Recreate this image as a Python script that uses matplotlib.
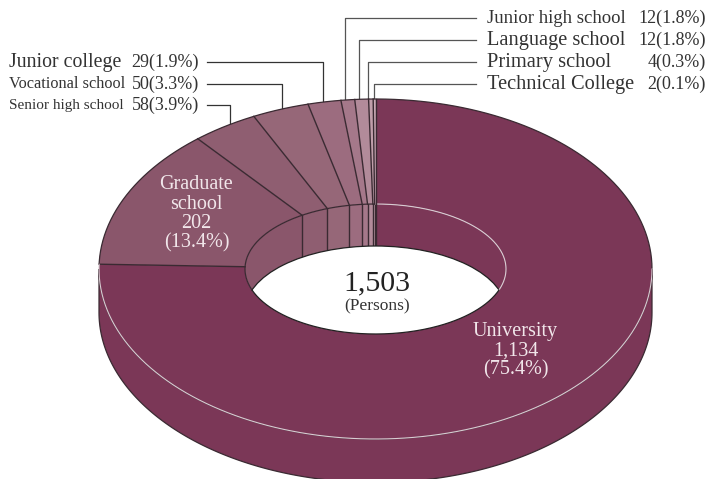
#!/usr/bin/env python3
# -*- coding:utf-8 -*-

import numpy as np
import matplotlib
matplotlib.use('Agg')
import matplotlib.pyplot as plt
from matplotlib.patches import Ellipse, Polygon, Rectangle

## data, clockwise from 12 o'clock
schools = ["University", "Graduate school", "Senior high school", "Vocational school",
           "Junior college", "Junior high school", "Language school", "Primary school",
           "Technical College"]
persons = [1134, 202, 58, 50, 29, 12, 12, 4, 2]
percents = ["75.4", "13.4", "3.9", "3.3", "1.9", "1.8", "1.8", "0.3", "0.1"]
total_label = "1,503"

colors = ["#7b3757", "#8a566b", "#8f5e71", "#966778", "#9c6c7f", "#a5788a", "#b28b9a",
          "#c09eaa", "#c8a9b4"]

## geometry, in pixels of the picture
CX, CY = 375.5, 269
A, B = 276.5, 170
IN_A, IN_B = 130.5, 65
DEPTH_OUT = 43.5
DEPTH_IN = 42
EDGE = "#3a2a32"
LIGHT = "#d8ccd2"
SERIF = "Liberation Serif"


def arc(a, b, t0, t1, cy=CY, n=200):
    t = np.radians(np.linspace(t0, t1, n))
    return np.column_stack((CX + a*np.cos(t), cy - b*np.sin(t)))


def inner_point(angle):
    ## the spokes are straight lines through the centre
    t = np.radians(angle)
    dx, dy = A*np.cos(t), B*np.sin(t)
    k = 1.0/np.sqrt((dx/IN_A)**2 + (dy/IN_B)**2)
    return CX + k*dx, CY - k*dy


fig = plt.figure(figsize=(7.08, 4.79), dpi=100)
ax = fig.add_axes([0, 0, 1, 1])
ax.set_xlim(0, 708)
ax.set_ylim(479, 0)
ax.axis('off')

## angles of the slices
shares = np.array(persons)/sum(persons)*360.0
ends = 90 - np.cumsum(shares)
starts = ends + shares

## side of the disc
side = np.vstack((arc(A, B, 0, -180, CY + DEPTH_OUT), arc(A, B, -180, 0, CY)))
ax.add_patch(Polygon(side, closed=True, fc=colors[0], ec=EDGE, lw=0.9, zorder=1))

## top face
for i in range(len(persons)):
    pts = np.vstack(([[CX, CY]], arc(A, B, starts[i], ends[i])))
    ax.add_patch(Polygon(pts, closed=True, fc=colors[i], ec="none", zorder=2))

## hole: back wall first, white opening on top of it
hole = Ellipse((CX, CY), IN_A*2, IN_B*2, fc="white", ec="none", zorder=3)
ax.add_patch(hole)
x_bounds = [CX - IN_A] + [inner_point(e)[0] for e in ends[1:-1]] + [CX, CX + IN_A]
for j, i in enumerate([1, 2, 3, 4, 5, 6, 7, 8, 0]):
    r = Rectangle((x_bounds[j], CY - IN_B), x_bounds[j+1] - x_bounds[j], 2*IN_B,
                  fc=colors[i], ec="none", zorder=3.1)
    ax.add_patch(r)
    r.set_clip_path(hole)
for x in x_bounds[1:-1]:
    ln, = ax.plot([x, x], [CY - IN_B, CY + IN_B], color=EDGE, lw=1.0, zorder=3.2)
    ln.set_clip_path(hole)
opening = Ellipse((CX, CY + DEPTH_IN), IN_A*2, IN_B*2, fc="white", ec="#222222", lw=0.9, zorder=3.3)
ax.add_patch(opening)
opening.set_clip_path(hole)
ax.plot(*arc(IN_A, IN_B, 90, 199).T, color=EDGE, lw=0.9, zorder=3.4)
ax.plot(*arc(IN_A, IN_B, 90, -19).T, color=LIGHT, lw=0.8, zorder=3.4)
ax.plot(*arc(IN_A, IN_B, 199, 341).T, color="#222222", lw=0.9, zorder=3.5)

## spokes and rims
for s in ends[1:]:
    t = np.radians(s)
    x1, y1 = inner_point(s)
    ax.plot([CX + A*np.cos(t), x1], [CY - B*np.sin(t), y1], color=EDGE, lw=1.0, zorder=4)
t = np.radians(ends[0])
x1, y1 = inner_point(ends[0])
ax.plot([CX + A*np.cos(t), x1], [CY - B*np.sin(t), y1], color=EDGE, lw=1.0, zorder=4)
ax.plot(*arc(A, B, 0, 178.4).T, color=EDGE, lw=0.9, zorder=4)
ax.plot(*arc(A, B, 0, -181.6).T, color=LIGHT, lw=0.8, zorder=4)

## labels inside
ax.text(196.5, 214, "Graduate\nschool\n%d\n(%s%%)" % (persons[1], percents[1]), color="#f1e6ea",
        family=SERIF, fontsize=14.5, ha='center', va='center', linespacing=1.02, zorder=5)
ax.text(515.5, 351, "University\n%s\n(%s%%)" % ("{:,}".format(persons[0]), percents[0]), color="#f1e6ea",
        family=SERIF, fontsize=14.5, ha='center', va='center', linespacing=1.02, zorder=5)
ax.text(377, 283, total_label, color="#222222", family=SERIF, fontsize=21.5, ha='center', va='center', zorder=5)
ax.text(377, 306, "(Persons)", color="#333333", family=SERIF, fontsize=12.5, ha='center', va='center', zorder=5)

## left callouts: index, y, font size, x of the drop, y of the drop end
left_rows = [(4, 62, 14.3, 322.5, 106), (3, 84, 11.7, 281.5, 113), (2, 105, 11, 229.5, 127)]
for i, y, fs, x_drop, y_end in left_rows:
    ax.text(9, y, schools[i], family=SERIF, fontsize=fs, color="#333333", ha='left', va='center')
    ax.text(199, y, "%d(%s%%)" % (persons[i], percents[i]), family=SERIF, fontsize=13, color="#333333",
            ha='right', va='center')
    ax.plot([207, x_drop, x_drop], [y, y, y_end], color="#333333", lw=0.9, zorder=1.5)

## right callouts
right_rows = [(5, 18, 13.5, 344.5), (6, 40, 14.7, 358.5), (7, 62, 14.7, 367.5), (8, 84, 14.7, 373.5)]
for i, y, fs, x_drop in right_rows:
    ax.text(487, y, schools[i], family=SERIF, fontsize=fs, color="#333333", ha='left', va='center')
    ax.text(706, y, "%d(%s%%)" % (persons[i], percents[i]), family=SERIF, fontsize=13, color="#333333",
            ha='right', va='center')
    ax.plot([476, x_drop, x_drop], [y, y, 100], color="#555555", lw=0.9, zorder=1.5)

fig.savefig("out.png", dpi=100)
